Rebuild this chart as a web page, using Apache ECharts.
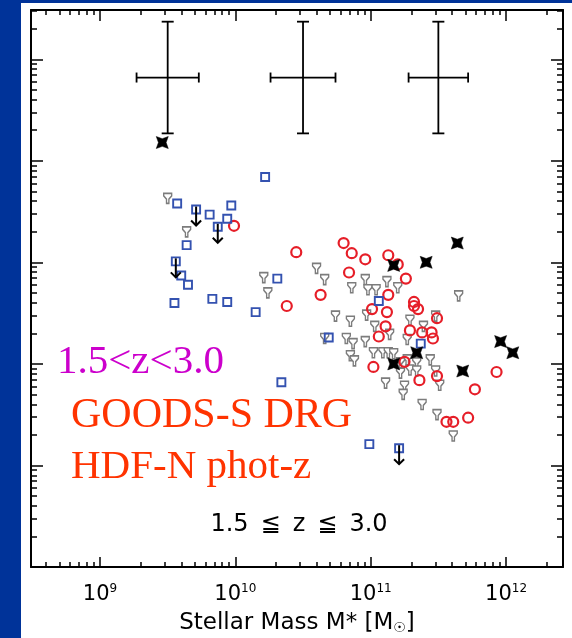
<!DOCTYPE html>
<html>
<head>
<meta charset="utf-8">
<script src="https://cdn.jsdelivr.net/npm/echarts@6/dist/echarts.min.js"></script>
<style>
  html, body { margin: 0; padding: 0; background: #ffffff; }
  #chart { width: 572px; height: 638px; }
</style>
</head>
<body>
<div id="chart"></div>
<script>
// Stellar mass vs. specific star-formation rate, 1.5 <= z <= 3.0.
// All values are stored as log10 quantities: [log M*, log(SFR/M*)].

// axis ranges (log10)
const X_MIN = 8.49, X_MAX = 12.421;
const Y_MIN = -4.0, Y_MAX = 1.485;

// decade tick positions
const xMajorTicks = [9, 10, 11, 12];
const yMajorTicks = [-3, -2, -1, 0, 1];

// HDF-N photometric-redshift sample (detections)
const hdfnPoints = [
  [10.22, -0.16], [9.57, -0.42], [9.81, -0.53], [9.97, -0.44], [9.94, -0.57],
  [9.64, -0.83], [9.60, -1.13], [9.65, -1.22], [9.55, -1.40], [9.83, -1.36],
  [9.94, -1.39], [10.15, -1.49], [10.31, -1.16], [10.69, -1.74], [11.06, -1.38],
  [11.37, -1.80], [10.34, -2.18], [10.99, -2.79]
];

// HDF-N upper limits
const hdfnLimits = [
  [9.71, -0.48], [9.87, -0.65], [9.56, -0.99], [11.21, -2.83]
];

// GOODS-S DRGs
const drgPoints = [
  [9.99, -0.64], [10.45, -0.90], [10.80, -0.81], [10.86, -0.91], [10.96, -0.97],
  [11.13, -0.93], [11.20, -1.02], [10.84, -1.10], [11.26, -1.16], [10.63, -1.32],
  [10.38, -1.43], [11.13, -1.32], [11.01, -1.46], [11.12, -1.49], [11.32, -1.39],
  [11.32, -1.43], [11.35, -1.46], [11.11, -1.63], [11.06, -1.73], [11.29, -1.67],
  [11.38, -1.69], [11.45, -1.69], [11.46, -1.75], [11.49, -1.55], [11.25, -1.98],
  [11.02, -2.03], [11.36, -2.16], [11.49, -2.12], [11.93, -2.08], [11.77, -2.25],
  [11.56, -2.57], [11.61, -2.57], [11.72, -2.53]
];

// GOODS-S non-DRG upper limits
const otherLimits = [
  [9.50, -0.37], [9.64, -0.70], [10.21, -1.15], [10.24, -1.30], [10.60, -1.06],
  [10.66, -1.17], [10.86, -1.25], [10.96, -1.17], [10.98, -1.27], [11.04, -1.27],
  [11.12, -1.19], [11.20, -1.25], [10.97, -1.52], [10.74, -1.53], [10.85, -1.58],
  [11.03, -1.63], [11.14, -1.71], [11.29, -1.57], [11.39, -1.63], [11.27, -1.76],
  [10.66, -1.75], [10.82, -1.75], [10.87, -1.80], [10.96, -1.78], [10.85, -1.92],
  [10.88, -1.97], [11.02, -1.89], [11.09, -1.89], [11.13, -1.89], [11.17, -1.90],
  [11.27, -1.96], [11.34, -1.99], [11.44, -1.96], [11.22, -2.09], [11.29, -2.06],
  [11.34, -2.07], [11.51, -2.21], [11.11, -2.19], [11.25, -2.22], [11.24, -2.30],
  [11.38, -2.40], [11.49, -2.50], [11.65, -1.33], [11.48, -1.53], [11.61, -2.71],
  [11.48, -2.07], [11.22, -1.99]
];

// X-ray sources
const xraySources = [
  [9.46, 0.18], [11.17, -1.03], [11.41, -1.00], [11.64, -0.81], [11.34, -1.89],
  [11.17, -2.00], [11.96, -1.78], [12.05, -1.89], [11.68, -2.07]
];

// typical uncertainties: [log M, log SSFR, dex in mass, dex in SSFR]
const typicalErrors = [
  [9.5, 0.82, 0.23, 0.55],
  [10.5, 0.82, 0.24, 0.55],
  [11.5, 0.82, 0.22, 0.55]
];

// minor tick positions at 2..9 x 10^n
function minorTicks(lo, hi) {
  const out = [];
  for (let n = Math.floor(lo); n <= Math.ceil(hi); n++) {
    for (let k = 2; k <= 9; k++) {
      const v = n + Math.log10(k);
      if (v > lo && v < hi) out.push(v);
    }
  }
  return out;
}
const xMinorTicks = minorTicks(X_MIN, X_MAX);
const yMinorTicks = minorTicks(Y_MIN, Y_MAX);

const INK = '#000000';
const SANS = '"DejaVu Sans", sans-serif';
const SERIF = '"Liberation Serif", "DejaVu Serif", serif';

function frameAxis(kind, position, ticks, len, showLine, label) {
  const isX = kind === 'x';
  return {
    type: 'value',
    position: position,
    min: isX ? X_MIN : Y_MIN,
    max: isX ? X_MAX : Y_MAX,
    axisLine: { show: showLine, onZero: false, lineStyle: { color: INK, width: 2 } },
    axisTick: { show: true, inside: true, length: len, customValues: ticks,
                lineStyle: { color: INK, width: 1.5 } },
    axisLabel: label || { show: false },
    splitLine: { show: false },
    minorTick: { show: false },
    z: 5
  };
}

const massLabel = {
  show: true,
  customValues: xMajorTicks,
  margin: 16,
  formatter: function (v) { return '{b|10}{s|' + Math.round(v) + '}'; },
  rich: {
    b: { fontFamily: SANS, fontSize: 21, lineHeight: 24, color: INK },
    s: { fontFamily: SANS, fontSize: 12, lineHeight: 12, color: INK, verticalAlign: 'top' }
  }
};

const bottomMajor = frameAxis('x', 'bottom', xMajorTicks, 10, true, massLabel);
bottomMajor.name = 'Stellar Mass M* [M{sun|☉}]';
bottomMajor.nameLocation = 'middle';
bottomMajor.nameGap = 44;
bottomMajor.nameTextStyle = {
  fontFamily: SANS, fontSize: 23, lineHeight: 24, color: INK,
  rich: { sun: { fontFamily: SANS, fontSize: 14, lineHeight: 24, color: INK, verticalAlign: 'bottom' } }
};

// open-square upper-limit arrows
function renderArrow(params, api) {
  const p = api.coord([api.value(0), api.value(1)]);
  const len = 16, head = 5;
  const st = { stroke: INK, lineWidth: 2, fill: null };
  return {
    type: 'group',
    children: [
      { type: 'line', shape: { x1: p[0], y1: p[1] - 3, x2: p[0], y2: p[1] + len }, style: st },
      { type: 'polyline', shape: { points: [[p[0] - head, p[1] + len - head], [p[0], p[1] + len], [p[0] + head, p[1] + len - head]] }, style: st }
    ]
  };
}

// error-bar crosses
function renderCross(params, api) {
  const x = api.value(0), y = api.value(1), dx = api.value(2), dy = api.value(3);
  const c = api.coord([x, y]);
  const l = api.coord([x - dx, y]);
  const r = api.coord([x + dx, y]);
  const t = api.coord([x, y + dy]);
  const b = api.coord([x, y - dy]);
  const st = { stroke: INK, lineWidth: 1.8, fill: null };
  const capH = 5, capV = 6;
  return {
    type: 'group',
    children: [
      { type: 'line', shape: { x1: l[0], y1: c[1], x2: r[0], y2: c[1] }, style: st },
      { type: 'line', shape: { x1: c[0], y1: t[1], x2: c[0], y2: b[1] }, style: st },
      { type: 'line', shape: { x1: l[0], y1: c[1] - capH, x2: l[0], y2: c[1] + capH }, style: st },
      { type: 'line', shape: { x1: r[0], y1: c[1] - capH, x2: r[0], y2: c[1] + capH }, style: st },
      { type: 'line', shape: { x1: c[0] - capV, y1: t[1], x2: c[0] + capV, y2: t[1] }, style: st },
      { type: 'line', shape: { x1: c[0] - capV, y1: b[1], x2: c[0] + capV, y2: b[1] }, style: st }
    ]
  };
}

const chart = echarts.init(document.getElementById('chart'), null, { renderer: 'canvas' });

chart.setOption({
  animation: false,
  backgroundColor: '#ffffff',
  grid: { left: 31, right: 9, top: 10, bottom: 71, containLabel: false, outerBoundsMode: 'none' },
  xAxis: [
    bottomMajor,
    frameAxis('x', 'bottom', xMinorTicks, 5, false),
    frameAxis('x', 'top', xMajorTicks, 11, true),
    frameAxis('x', 'top', xMinorTicks, 5, false)
  ],
  yAxis: [
    frameAxis('y', 'left', yMajorTicks, 12, true),
    frameAxis('y', 'left', yMinorTicks, 6, false),
    frameAxis('y', 'right', yMajorTicks, 12, true),
    frameAxis('y', 'right', yMinorTicks, 6, false)
  ],
  series: [
    {
      name: 'GOODS-S limits', type: 'scatter', data: otherLimits, z: 2,
      symbol: 'path://M0,0 L10,0 L10,3 L6.5,7 L6.5,12 L3.5,12 L3.5,7 L0,3 Z',
      symbolSize: [8, 10],
      itemStyle: { color: '#ffffff', borderColor: '#7c7c7c', borderWidth: 1.5, opacity: 1 },
      emphasis: { disabled: true }, silent: true
    },
    {
      name: 'GOODS-S DRG', type: 'scatter', data: drgPoints, z: 3,
      symbol: 'circle', symbolSize: 10,
      itemStyle: { color: 'rgba(255,255,255,0)', borderColor: '#e61e28', borderWidth: 2.2, opacity: 1 },
      emphasis: { disabled: true }, silent: true
    },
    {
      name: 'HDF-N phot-z', type: 'scatter', data: hdfnPoints.concat(hdfnLimits), z: 4,
      symbol: 'rect', symbolSize: 8,
      itemStyle: { color: 'rgba(255,255,255,0)', borderColor: '#3452b0', borderWidth: 1.9, opacity: 1 },
      emphasis: { disabled: true }, silent: true
    },
    {
      name: 'HDF-N limits', type: 'custom', data: hdfnLimits, z: 5,
      renderItem: renderArrow, silent: true
    },
    {
      name: 'X-ray', type: 'scatter', data: xraySources, z: 6,
      symbol: 'path://M0,0 L5,1.8 L10,0 L8.2,5 L10,10 L5,8.2 L0,10 L1.8,5 Z',
      symbolSize: 12,
      itemStyle: { color: INK, borderColor: INK, borderWidth: 0.5, opacity: 1 },
      emphasis: { disabled: true }, silent: true
    },
    {
      name: 'errors', type: 'custom', data: typicalErrors, z: 5,
      renderItem: renderCross, silent: true
    }
  ],
  graphic: [
    { type: 'rect', z: 100, shape: { x: 0, y: 0, width: 21, height: 638 }, style: { fill: '#003399' } },
    { type: 'rect', z: 100, shape: { x: 0, y: 0, width: 572, height: 3 }, style: { fill: '#003399' } },
    { type: 'text', z: 100, x: 57, y: 362,
      style: { text: '1.5<z<3.0', font: '41px ' + SERIF, fill: '#cc00cc', align: 'left', verticalAlign: 'middle' } },
    { type: 'text', z: 100, x: 71, y: 416,
      style: { text: 'GOODS-S DRG', font: '42px ' + SERIF, fill: '#ff3300', align: 'left', verticalAlign: 'middle' } },
    { type: 'text', z: 100, x: 71, y: 467,
      style: { text: 'HDF-N phot-z', font: '41px ' + SERIF, fill: '#ff3300', align: 'left', verticalAlign: 'middle' } },
    { type: 'text', z: 100, x: 299, y: 525,
      style: { text: '1.5\u2002≦\u2002z\u2002≦\u20023.0', font: '24px ' + SANS, fill: INK, align: 'center', verticalAlign: 'middle' } }
  ]
});
</script>
</body>
</html>
